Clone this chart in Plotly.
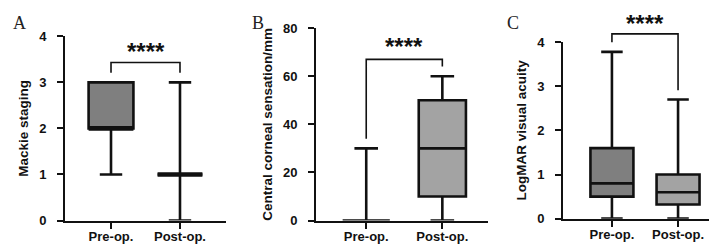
import plotly.graph_objects as go

# ---------------- data ----------------
groups = ["Pre-op.", "Post-op."]

# Panel A: Mackie staging
a_min = [1, 0]
a_q1 = [2, 1]
a_med = [2, 1]
a_q3 = [3, 1]
a_max = [3, 3]

# Panel B: Central corneal sensation/mm
b_min = [0, 0]
b_q1 = [0, 10]
b_med = [0, 30]
b_q3 = [0, 50]
b_max = [30, 60]

# Panel C: LogMAR visual acuity
c_min = [0, 0]
c_q1 = [0.5, 0.32]
c_med = [0.8, 0.6]
c_q3 = [1.6, 1.0]
c_max = [3.78, 2.7]

# significance brackets: (top, left leg bottom, right leg bottom, star centre)
sig_a = [3.43, 3.21, 3.21, 3.66]
sig_b = [67.0, 34.0, 64.0, 72.5]
sig_c = [4.19, 4.0, 2.91, 4.43]
sig_label = "****"

y_titles = ["Mackie staging", "Central corneal sensation/mm", "LogMAR visual acuity"]
y_ranges = [[0, 4], [0, 80], [0, 4]]
y_dtick = [1, 20, 1]
panel_letters = ["A", "B", "C"]

fills = ["#7f7f7f", "#a3a3a3"]

W, H = 717, 244
x_domains = [[57 / W, 218 / W], [308 / W, 480 / W], [555 / W, 1.0]]
y_domains = [[1 - 219 / H, 1 - 22.7 / H], [1 - 219 / H, 1 - 14 / H], [1 - 217 / H, 1 - 29 / H]]
x_ranges = [[-0.667, 1.667], [-0.66, 1.6], [-0.74, 1.71]]
box_w = [0.65, 0.62, 0.65]

fig = go.Figure()
panels = [
    (a_min, a_q1, a_med, a_q3, a_max),
    (b_min, b_q1, b_med, b_q3, b_max),
    (c_min, c_q1, c_med, c_q3, c_max),
]
sigs = [sig_a, sig_b, sig_c]

FAM = "Liberation Sans, Arial, sans-serif"
tick_font = dict(family=FAM, size=13, color="#111", weight="bold")
line_col = "#111111"


def to_paper_x(i, v):
    r0, r1 = x_ranges[i]
    d0, d1 = x_domains[i]
    return d0 + (v - r0) / (r1 - r0) * (d1 - d0)


def to_paper_y(i, v):
    r0, r1 = y_ranges[i]
    d0, d1 = y_domains[i]
    return d0 + (v - r0) / (r1 - r0) * (d1 - d0)


shapes = []
annotations = []
for i, (mn, q1, md, q3, mx) in enumerate(panels):
    xa = "x" if i == 0 else f"x{i+1}"
    ya = "y" if i == 0 else f"y{i+1}"
    for g in range(2):
        fig.add_trace(go.Box(
            x=[groups[g]], q1=[q1[g]], median=[md[g]], q3=[q3[g]],
            lowerfence=[mn[g]], upperfence=[mx[g]],
            fillcolor=fills[g], line=dict(color=line_col, width=2.6),
            width=box_w[i], whiskerwidth=0.5, boxpoints=False,
            showlegend=False, xaxis=xa, yaxis=ya, hoverinfo="skip",
        ))
        # median coinciding with a box edge is drawn heavier (as in the original)
        if md[g] > 0 and (md[g] == q1[g] or md[g] == q3[g]):
            fig.add_trace(go.Box(
                x=[groups[g]], q1=[md[g]], median=[md[g]], q3=[md[g]],
                lowerfence=[md[g]], upperfence=[md[g]],
                fillcolor=fills[g], line=dict(color=line_col, width=4.5),
                width=box_w[i], whiskerwidth=0, boxpoints=False,
                showlegend=False, xaxis=xa, yaxis=ya, hoverinfo="skip",
            ))
    axn = "" if i == 0 else str(i + 1)
    fig.layout["xaxis" + axn] = dict(
        domain=x_domains[i], range=x_ranges[i], type="category",
        categoryorder="array", categoryarray=groups,
        showline=True, linewidth=2, linecolor=line_col,
        ticks="outside", ticklen=6, tickwidth=2, tickcolor=line_col,
        showgrid=False, zeroline=False, tickfont=tick_font,
        ticklabelstandoff=-3,
        anchor=ya, fixedrange=True,
    )
    fig.layout["yaxis" + axn] = dict(
        domain=y_domains[i], range=y_ranges[i], dtick=y_dtick[i],
        showline=True, linewidth=2, linecolor=line_col,
        ticks="outside", ticklen=6, tickwidth=2, tickcolor=line_col,
        showgrid=False, zeroline=False, tickfont=tick_font,
        ticklabelstandoff=8,
        title=dict(text="<b>" + y_titles[i] + "</b>",
                   font=dict(family=FAM, size=13.5, color="#111"),
                   standoff=7),
        anchor=xa, fixedrange=True,
    )
    # bracket
    top, lb, rb, star = sigs[i]
    x0p, x1p = to_paper_x(i, 0), to_paper_x(i, 1)
    path = (f"M {x0p},{to_paper_y(i, lb)} L {x0p},{to_paper_y(i, top)} "
            f"L {x1p},{to_paper_y(i, top)} L {x1p},{to_paper_y(i, rb)}")
    shapes.append(dict(type="path", xref="paper", yref="paper", path=path,
                       line=dict(color=line_col, width=1.6)))
    annotations.append(dict(
        x=(x0p + x1p) / 2, y=to_paper_y(i, star), xref="paper", yref="paper",
        text="<b>" + sig_label + "</b>", showarrow=False,
        font=dict(family=FAM, size=24, color="#111"),
        xanchor="center", yanchor="middle",
    ))

letter_pos = [(3, 9), (242, 8), (497, 9)]
for (lx, ly), letter in zip(letter_pos, panel_letters):
    annotations.append(dict(
        x=lx / W, y=1 - ly / H, xref="paper", yref="paper", text=letter,
        showarrow=False, xanchor="left", yanchor="middle",
        font=dict(family="Liberation Serif, Times New Roman, serif", size=18, color="#222"),
    ))

fig.update_layout(
    width=W, height=H, margin=dict(l=0, r=0, t=0, b=0),
    paper_bgcolor="white", plot_bgcolor="white",
    shapes=shapes, annotations=annotations, boxgap=0,
)

fig.write_html("out.html")
